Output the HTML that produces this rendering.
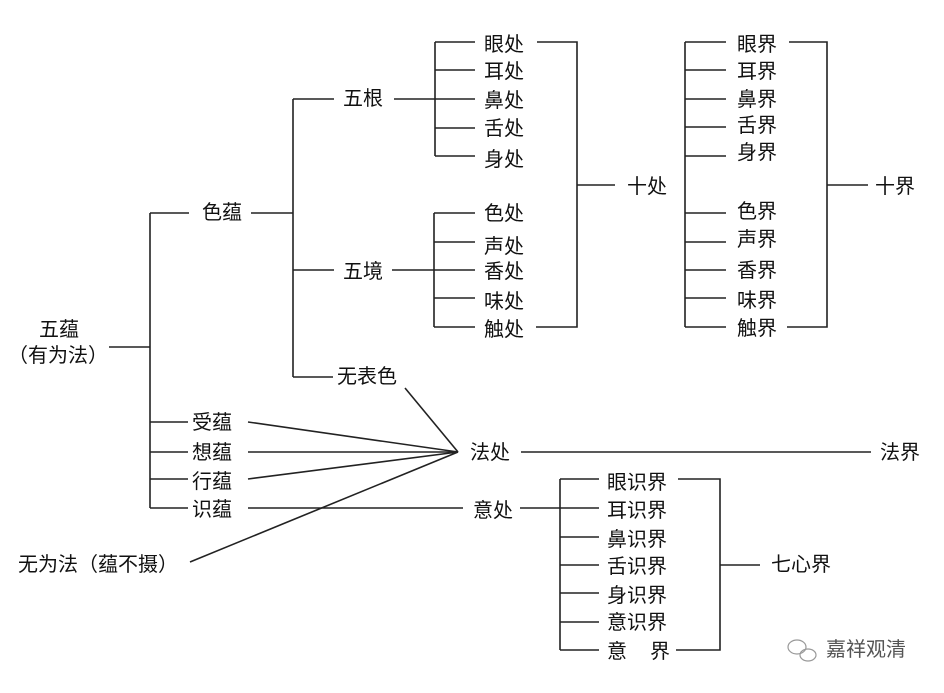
<!DOCTYPE html>
<html><head><meta charset="utf-8"><style>
html,body{margin:0;padding:0;background:#fff;}
svg{display:block}
text{font-family:"Liberation Sans","Noto Sans CJK SC",sans-serif;font-size:20px;fill:#111;dominant-baseline:central}
line,polyline{stroke:#222;stroke-width:1.6;fill:none}
</style></head><body>
<svg width="944" height="693" viewBox="0 0 944 693" xmlns="http://www.w3.org/2000/svg">
<!-- root -->
<text x="59" y="330" text-anchor="middle">五蕴</text>
<text x="58" y="356" text-anchor="middle">（有为法）</text>
<line x1="109" y1="347" x2="150" y2="347"/>
<line x1="150" y1="213" x2="150" y2="508"/>
<!-- 色蕴 -->
<line x1="150" y1="213" x2="189" y2="213"/>
<text x="202" y="213">色蕴</text>
<line x1="251" y1="213" x2="293" y2="213"/>
<line x1="293" y1="99" x2="293" y2="377"/>
<!-- 五根 -->
<line x1="293" y1="99" x2="334" y2="99"/>
<text x="343" y="99">五根</text>
<line x1="394" y1="99" x2="435" y2="99"/>
<line x1="435" y1="42" x2="435" y2="156"/>
<line x1="435" y1="42" x2="475" y2="42"/><text x="484" y="45">眼处</text>
<line x1="435" y1="70" x2="475" y2="70"/><text x="484" y="72">耳处</text>
<line x1="435" y1="99" x2="475" y2="99"/><text x="484" y="101">鼻处</text>
<line x1="435" y1="128" x2="475" y2="128"/><text x="484" y="129">舌处</text>
<line x1="435" y1="156" x2="475" y2="156"/><text x="484" y="160">身处</text>
<!-- 五境 -->
<line x1="293" y1="270" x2="334" y2="270"/>
<text x="343" y="272">五境</text>
<line x1="392" y1="270" x2="434" y2="270"/>
<line x1="434" y1="213" x2="434" y2="327"/>
<line x1="434" y1="213" x2="475" y2="213"/><text x="484" y="214">色处</text>
<line x1="434" y1="242" x2="475" y2="242"/><text x="484" y="247">声处</text>
<line x1="434" y1="270" x2="475" y2="270"/><text x="484" y="272">香处</text>
<line x1="434" y1="298" x2="475" y2="298"/><text x="484" y="302">味处</text>
<line x1="434" y1="327" x2="475" y2="327"/><text x="484" y="330">触处</text>
<!-- 无表色 -->
<line x1="293" y1="377" x2="333" y2="377"/>
<text x="337" y="377">无表色</text>
<!-- 十处 bracket -->
<polyline points="537,42 577,42 577,327 536,327"/>
<line x1="577" y1="185" x2="615" y2="185"/>
<text x="627" y="187">十处</text>
<!-- 界 list -->
<line x1="685" y1="42" x2="685" y2="327"/>
<line x1="685" y1="42" x2="726" y2="42"/><text x="737" y="45">眼界</text>
<line x1="685" y1="70" x2="726" y2="70"/><text x="737" y="72">耳界</text>
<line x1="685" y1="99" x2="726" y2="99"/><text x="737" y="100">鼻界</text>
<line x1="685" y1="127" x2="726" y2="127"/><text x="737" y="126">舌界</text>
<line x1="685" y1="156" x2="726" y2="156"/><text x="737" y="153">身界</text>
<line x1="685" y1="213" x2="726" y2="213"/><text x="737" y="212">色界</text>
<line x1="685" y1="242" x2="726" y2="242"/><text x="737" y="240">声界</text>
<line x1="685" y1="270" x2="726" y2="270"/><text x="737" y="271">香界</text>
<line x1="685" y1="298" x2="726" y2="298"/><text x="737" y="301">味界</text>
<line x1="685" y1="327" x2="726" y2="327"/><text x="737" y="329">触界</text>
<polyline points="789,42 827,42 827,327 787,327"/>
<line x1="827" y1="185" x2="868" y2="185"/>
<text x="875" y="187">十界</text>
<!-- 受想行识 -->
<line x1="150" y1="422" x2="188" y2="422"/><text x="192" y="423">受蕴</text>
<line x1="150" y1="452" x2="188" y2="452"/><text x="192" y="453">想蕴</text>
<line x1="150" y1="479" x2="188" y2="479"/><text x="192" y="482">行蕴</text>
<line x1="150" y1="508" x2="188" y2="508"/><text x="192" y="510">识蕴</text>
<!-- converging lines -->
<line x1="248" y1="422" x2="458" y2="452"/>
<line x1="248" y1="452" x2="458" y2="452"/>
<line x1="248" y1="479" x2="458" y2="452"/>
<line x1="405" y1="388" x2="458" y2="452"/>
<line x1="190" y1="562" x2="458" y2="452"/>
<text x="470" y="453">法处</text>
<line x1="521" y1="452" x2="871" y2="452"/>
<text x="880" y="453">法界</text>
<text x="18" y="565">无为法（蕴不摄）</text>
<!-- 识蕴 -> 意处 -->
<line x1="248" y1="508" x2="463" y2="508"/>
<text x="473" y="511">意处</text>
<line x1="520" y1="508" x2="599" y2="508"/>
<line x1="560" y1="479" x2="560" y2="650"/>
<line x1="560" y1="479" x2="599" y2="479"/><text x="607" y="483">眼识界</text>
<line x1="560" y1="537" x2="599" y2="537"/><text x="607" y="511">耳识界</text>
<text x="607" y="540">鼻识界</text>
<line x1="560" y1="565" x2="599" y2="565"/><text x="607" y="567">舌识界</text>
<line x1="560" y1="593" x2="599" y2="593"/><text x="607" y="596">身识界</text>
<line x1="560" y1="622" x2="599" y2="622"/><text x="607" y="623">意识界</text>
<line x1="560" y1="650" x2="599" y2="650"/><text x="607" y="652">意</text><text x="650" y="652">界</text>
<polyline points="678,479 720,479 720,650 676,650"/>
<line x1="720" y1="565" x2="760" y2="565"/>
<text x="771" y="565">七心界</text>
<!-- watermark -->
<g stroke="#999" stroke-width="1.2" fill="none">
<ellipse cx="797" cy="647" rx="9" ry="7"/>
<ellipse cx="808" cy="655" rx="8" ry="6"/>
</g>
<text x="826" y="650" style="fill:#555">嘉祥观清</text>
</svg>
</body></html>
